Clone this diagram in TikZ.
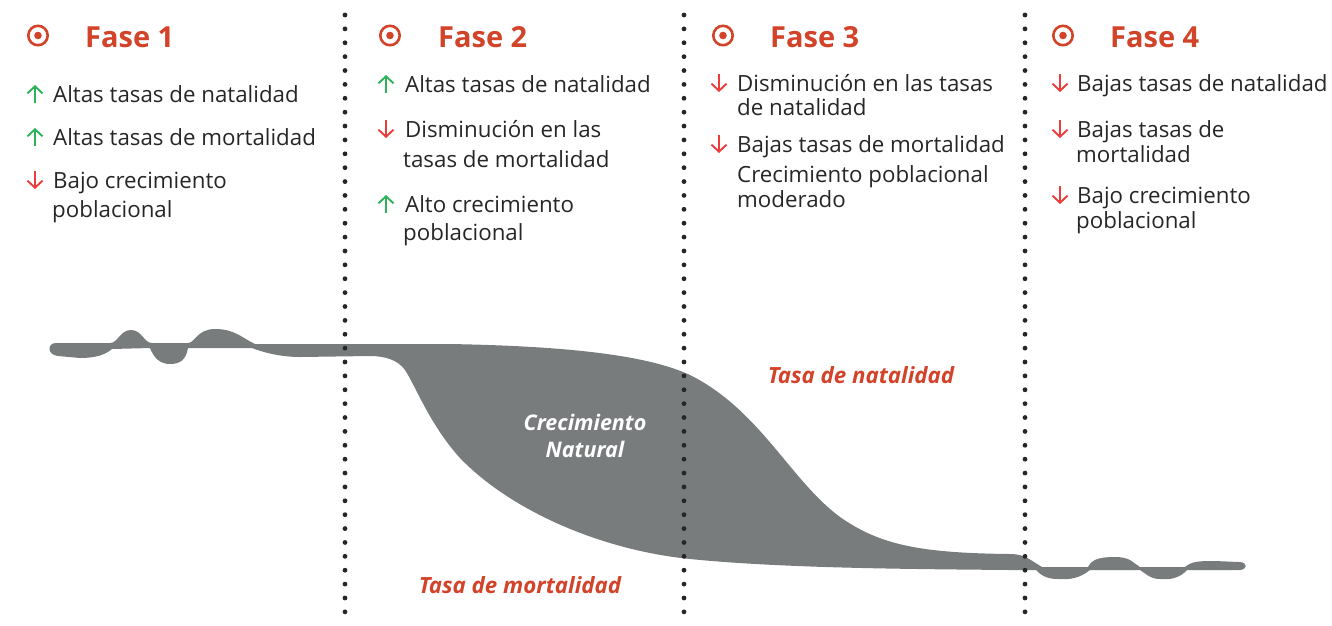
\documentclass[tikz,border=0pt]{standalone}
\usepackage{fontspec}
\setmainfont{Open Sans}
\usetikzlibrary{arrows.meta}
\definecolor{txt}{HTML}{262626}
\definecolor{redt}{HTML}{D2432A}
\definecolor{upg}{HTML}{2EB35A}
\definecolor{dnr}{HTML}{EE3B3B}
\definecolor{band}{HTML}{797C7D}
\begin{document}
\begin{tikzpicture}[x=1pt,y=-1pt,
  body/.style={font=\fontsize{22.3}{26}\selectfont, text=txt, anchor=base west, inner sep=0pt},
  ttl/.style={font=\fontsize{29}{34}\selectfont\bfseries, text=redt, anchor=base west, inner sep=0pt},
  lbl/.style={font=\fontsize{22.3}{26}\selectfont\bfseries\itshape, text=redt, anchor=base, inner sep=0pt},
  wlbl/.style={font=\fontsize{21.5}{24}\selectfont\bfseries\itshape, text=white, anchor=base, inner sep=0pt},
  uparr/.style={draw=upg, line width=1.9pt, -{Straight Barb[length=7pt,width=15pt]}},
  dnarr/.style={draw=dnr, line width=1.9pt, -{Straight Barb[length=7pt,width=15pt]}},
  ring/.style={draw=redt, line width=2.6pt},
  dotc/.style={fill=black!85}
]
\useasboundingbox (0,0) rectangle (1332,625);

% band shape
\fill[band] (56,343) -- (110,343)
  .. controls (118,343) and (120,330) .. (131,330)
  .. controls (142,330) and (144,343) .. (152,343)
  -- (188,343)
  .. controls (195,343) and (197,329) .. (215,329)
  .. controls (235,329) and (242,338) .. (255,344)
  -- (450,344)
  .. controls (560,346) and (645,354) .. (690,375)
  .. controls (760,410) and (790,480) .. (840,517)
  .. controls (880,545) and (920,553) .. (1010,554)
  .. controls (1025,554) and (1030,560) .. (1042,567)
  -- (1088,567)
  .. controls (1092,559) and (1100,557) .. (1115,557)
  .. controls (1130,557) and (1132,562) .. (1140,567)
  -- (1185,567)
  .. controls (1192,561) and (1200,561) .. (1215,561)
  -- (1239,562)
  .. controls (1248,562) and (1248,570) .. (1239,570)
  -- (1187,570)
  .. controls (1180,578) and (1170,580) .. (1160,579)
  .. controls (1150,579) and (1145,573) .. (1140,570)
  -- (1090,570)
  .. controls (1080,578) and (1070,580) .. (1058,579)
  .. controls (1045,579) and (1040,574) .. (1036,570)
  -- (1010,570)
  .. controls (900,569) and (780,568) .. (690,559)
  .. controls (600,550) and (510,510) .. (460,458)
  .. controls (430,425) and (415,385) .. (405,370)
  .. controls (398,360) and (385,356) .. (370,356)
  -- (300,357)
  .. controls (280,357) and (262,352) .. (252,348)
  -- (188,348)
  .. controls (186,360) and (180,364) .. (170,364)
  .. controls (160,364) and (154,358) .. (150,348)
  -- (112,349)
  .. controls (105,355) and (95,358) .. (80,358)
  -- (58,356)
  .. controls (47,355) and (47,343) .. (56,343) -- cycle;

% dotted separators (drawn over the band)
\foreach \xx in {345,684,1025}{
  \foreach \i in {0,...,43}{
    \fill[dotc] (\xx,{15+\i*13.88}) circle[radius=2.4pt];
  }
}

% curve labels
\node[wlbl] (cn1) at (585,430) {Crecimiento};
\node[wlbl] (cn2) at (585,457) {Natural};
\node[lbl] (tn) at (861,383) {Tasa de natalidad};
\node[lbl] (tm) at (520,593) {Tasa de mortalidad};

% Phase icons and titles
\foreach \cx/\tx/\n in {38/85/1, 390/438/2, 723/770/3, 1063/1110/4}{
  \draw[ring] (\cx,35.5) circle[radius=9.7pt];
  \fill[redt] (\cx,35.5) circle[radius=3.8pt];
  \node[ttl] (f\n) at (\tx,47) {Fase \n};
}

% Phase 1
\draw[uparr] (35,103) -- (35,85);
\node[body] (p1a) at (53,102) {Altas tasas de natalidad};
\draw[uparr] (35,146) -- (35,128);
\node[body] (p1b) at (53,145) {Altas tasas de mortalidad};
\draw[dnarr] (35,171) -- (35,189);
\node[body] (p1c) at (53,188) {Bajo crecimiento};
\node[body] (p1d) at (52,217) {poblacional};

% Phase 2
\draw[uparr] (386,93) -- (386,75);
\node[body] (p2a) at (405,92) {Altas tasas de natalidad};
\draw[dnarr] (386,120) -- (386,138);
\node[body] (p2b) at (405,137) {Disminución en las};
\node[body] (p2c) at (403,167) {tasas de mortalidad};
\draw[uparr] (386,213) -- (386,195);
\node[body] (p2d) at (405,212) {Alto crecimiento};
\node[body] (p2e) at (403,240) {poblacional};

% Phase 3
\draw[dnarr] (719,74) -- (719,92);
\node[body] (p3a) at (737,91) {Disminución en las tasas};
\node[body] (p3b) at (737,115) {de natalidad};
\draw[dnarr] (719,135) -- (719,153);
\node[body] (p3c) at (737,152) {Bajas tasas de mortalidad};
\node[body] (p3d) at (737,182) {Crecimiento poblacional};
\node[body] (p3e) at (737,207) {moderado};

% Phase 4
\draw[dnarr] (1060,74) -- (1060,92);
\node[body] (p4a) at (1077,91) {Bajas tasas de natalidad};
\draw[dnarr] (1060,120) -- (1060,138);
\node[body] (p4b) at (1077,137) {Bajas tasas de};
\node[body] (p4c) at (1076,162) {mortalidad};
\draw[dnarr] (1060,186) -- (1060,204);
\node[body] (p4d) at (1077,203) {Bajo crecimiento};
\node[body] (p4e) at (1076,228) {poblacional};
\end{tikzpicture}
\end{document}
